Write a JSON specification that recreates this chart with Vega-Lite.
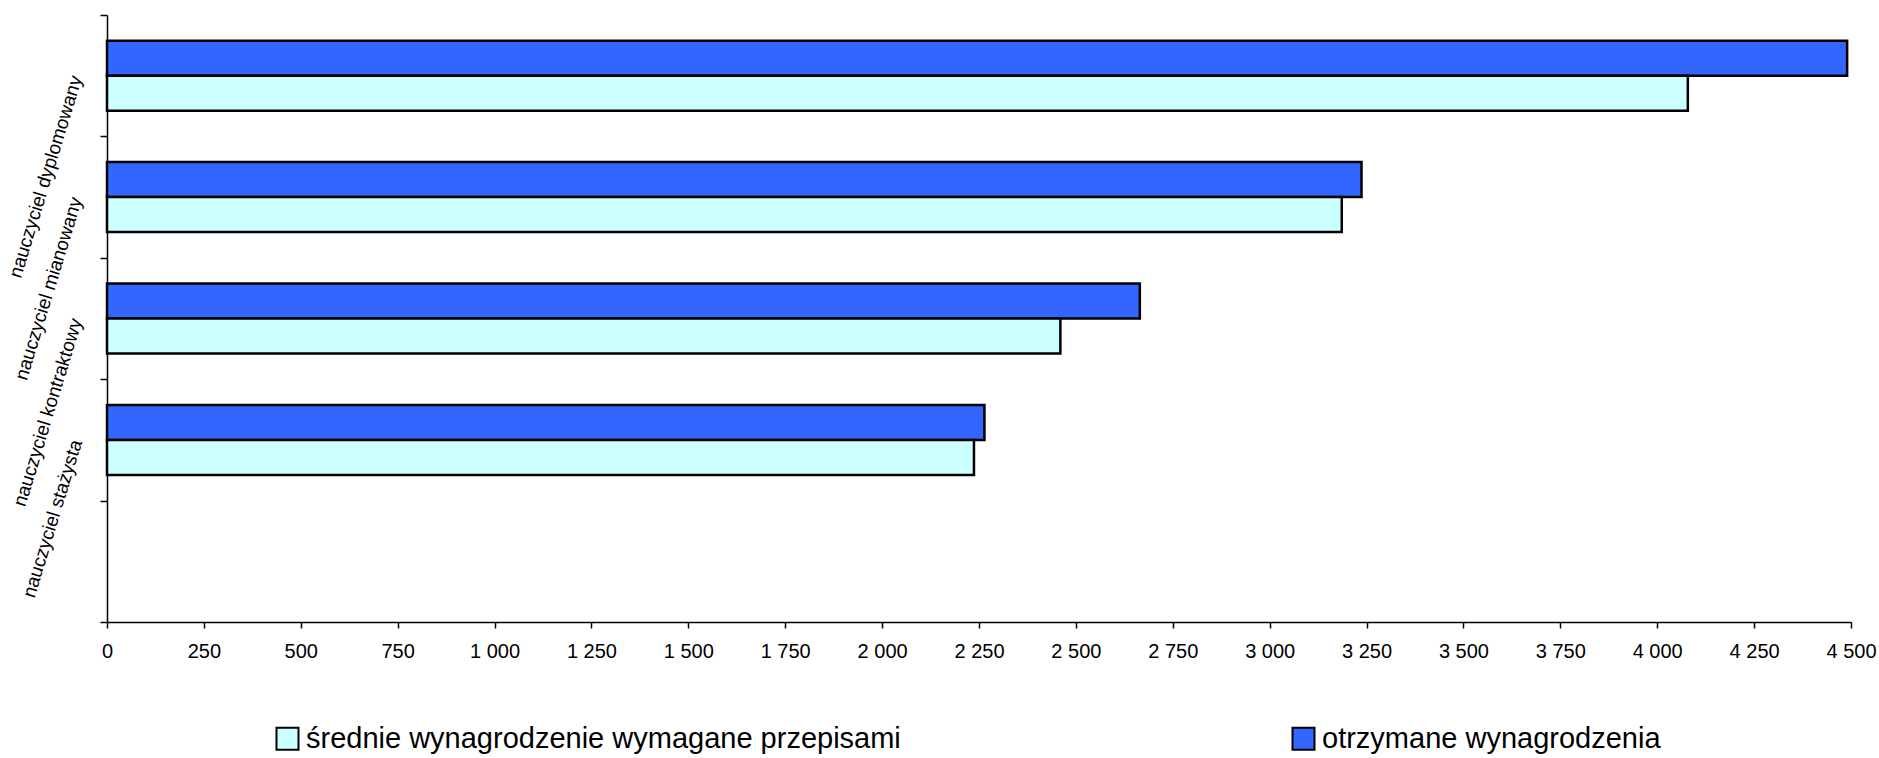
{
  "$schema": "https://vega.github.io/schema/vega-lite/v6.json",
  "width": 1744,
  "height": 607,
  "autosize": {"type": "none"},
  "padding": {"left": 107, "top": 15, "right": 28, "bottom": 136},
  "background": "white",
  "config": {"view": {"stroke": null}, "font": "Liberation Sans"},
  "data": {
    "values": [
      {"kategoria": "nauczyciel dyplomowany", "seria": "otrzymane wynagrodzenia", "wartosc": 4490},
      {"kategoria": "nauczyciel dyplomowany", "seria": "średnie wynagrodzenie wymagane przepisami", "wartosc": 4079},
      {"kategoria": "nauczyciel mianowany", "seria": "otrzymane wynagrodzenia", "wartosc": 3237},
      {"kategoria": "nauczyciel mianowany", "seria": "średnie wynagrodzenie wymagane przepisami", "wartosc": 3186},
      {"kategoria": "nauczyciel kontraktowy", "seria": "otrzymane wynagrodzenia", "wartosc": 2665},
      {"kategoria": "nauczyciel kontraktowy", "seria": "średnie wynagrodzenie wymagane przepisami", "wartosc": 2460},
      {"kategoria": "nauczyciel stażysta", "seria": "otrzymane wynagrodzenia", "wartosc": 2264},
      {"kategoria": "nauczyciel stażysta", "seria": "średnie wynagrodzenie wymagane przepisami", "wartosc": 2237}
    ]
  },
  "mark": {"type": "bar", "stroke": "black", "strokeWidth": 2.5},
  "encoding": {
    "y": {
      "field": "kategoria",
      "type": "nominal",
      "scale": {
        "domain": ["nauczyciel dyplomowany", "nauczyciel mianowany", "nauczyciel kontraktowy", "nauczyciel stażysta", " "],
        "paddingInner": 0,
        "paddingOuter": 0
      },
      "axis": {
        "title": null,
        "tickBand": "extent",
        "labelAngle": -73,
        "labelAlign": "right",
        "labelBaseline": "middle",
        "labelFontSize": 19,
        "labelPadding": 24,
        "labelLimit": 400,
        "labelColor": "black",
        "tickSize": 7,
        "tickColor": "black",
        "tickWidth": 1.5,
        "domainColor": "black",
        "domainWidth": 1.5,
        "grid": false
      }
    },
    "yOffset": {
      "field": "seria",
      "type": "nominal",
      "scale": {
        "domain": ["otrzymane wynagrodzenia", "średnie wynagrodzenie wymagane przepisami"],
        "paddingInner": 0,
        "paddingOuter": 0.734
      }
    },
    "x": {
      "field": "wartosc",
      "type": "quantitative",
      "scale": {"domain": [0, 4500], "nice": false},
      "axis": {
        "title": null,
        "values": [0, 250, 500, 750, 1000, 1250, 1500, 1750, 2000, 2250, 2500, 2750, 3000, 3250, 3500, 3750, 4000, 4250, 4500],
        "labelExpr": "replace(format(datum.value, ','), ',', ' ')",
        "labelFontSize": 20,
        "labelColor": "black",
        "labelPadding": 13,
        "labelFlush": false,
        "labelOverlap": false,
        "tickSize": 6,
        "tickColor": "black",
        "tickWidth": 1.5,
        "domainColor": "black",
        "domainWidth": 1.5,
        "grid": false
      }
    },
    "color": {
      "field": "seria",
      "type": "nominal",
      "scale": {
        "domain": ["średnie wynagrodzenie wymagane przepisami", "otrzymane wynagrodzenia"],
        "range": ["#CCFFFF", "#3366FF"]
      },
      "legend": {
        "orient": "none",
        "legendX": 166,
        "legendY": 709,
        "direction": "horizontal",
        "title": null,
        "padding": 0,
        "symbolType": "square",
        "symbolSize": 484,
        "symbolStrokeColor": "black",
        "symbolStrokeWidth": 2,
        "symbolOpacity": 1,
        "labelFontSize": 29,
        "labelOffset": 4,
        "labelLimit": 1000,
        "labelColor": "black",
        "columnPadding": 387
      }
    }
  }
}
